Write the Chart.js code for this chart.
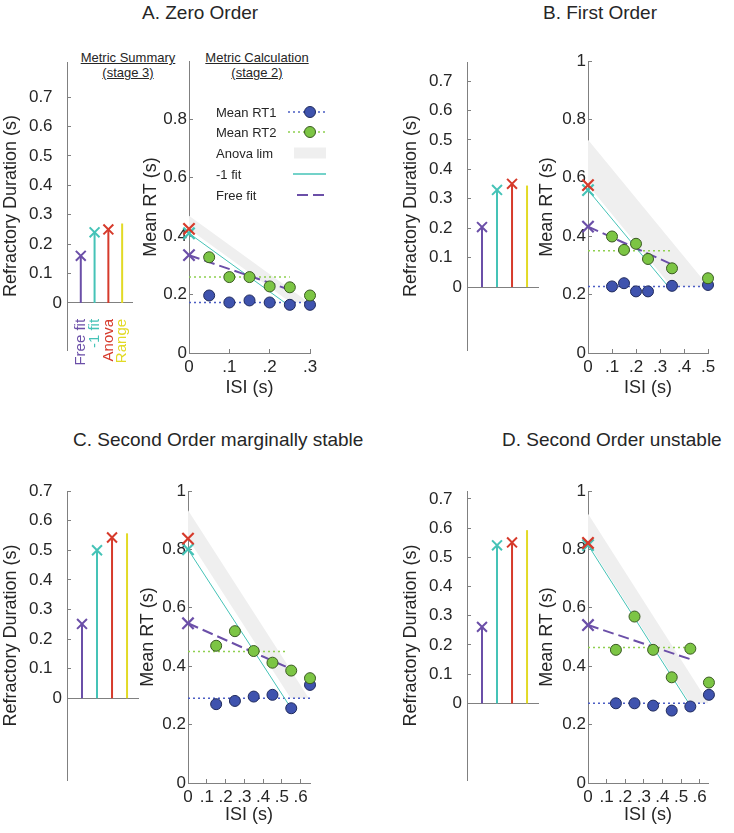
<!DOCTYPE html>
<html lang="en">
<head>
<meta charset="UTF-8">
<title>Refractory duration metrics</title>
<script src="https://cdn.jsdelivr.net/npm/chart.js"></script>
<style>
  body { margin: 0; background: #fff; font-family: "Liberation Sans", Arial, Helvetica, sans-serif; color: #262626; }
  #fig { position: relative; width: 734px; height: 833px; overflow: hidden; }
  canvas { position: absolute; }
  .title { position: absolute; font-size: 19px; line-height: 19px; white-space: nowrap; }
  .sub { position: absolute; font-size: 13px; line-height: 15px; text-align: center; text-decoration: underline; white-space: nowrap; transform: translateX(-50%); }
</style>
</head>
<body>
<div id="fig">
  <div class="title" style="left:142px;top:3px">A. Zero Order</div>
  <div class="title" style="left:543px;top:3px">B. First Order</div>
  <div class="title" style="left:73px;top:430px">C. Second Order marginally stable</div>
  <div class="title" style="left:502px;top:430px">D. Second Order unstable</div>
  <div class="sub" style="left:128px;top:50px">Metric Summary<br>(stage 3)</div>
  <div class="sub" style="left:257px;top:50px">Metric Calculation<br>(stage 2)</div>
</div>

<script>
// ---- shared labels / ticks ----
const summaryLabels = ['Free fit', '-1 fit', 'Anova', 'Range'];
const metricSlots = [1, 2, 3, 4];
const durTicks = [0, 0.1, 0.2, 0.3, 0.4, 0.5, 0.6, 0.7];
const rtTicksA = [0, 0.2, 0.4, 0.6, 0.8];
const rtTicks = [0, 0.2, 0.4, 0.6, 0.8, 1];
const legendLabels = ['Mean RT1', 'Mean RT2', 'Anova lim', '-1 fit', 'Free fit'];

// ---- A. Zero Order ----
const isiA = [0.05, 0.1, 0.15, 0.2, 0.25, 0.3];
const rt1A = [0.197, 0.173, 0.18, 0.173, 0.165, 0.165];
const rt2A = [0.328, 0.26, 0.26, 0.228, 0.225, 0.197];
const meanRt1A = [[0, 0.173], [0.31, 0.173]];
const meanRt2A = [[0, 0.26], [0.25, 0.26]];
const fitMinus1A = [[0, 0.41], [0.245, 0.165]];
const fitFreeA = [[0, 0.335], [0.255, 0.214]];
const anovaTopA = [[0, 0.47], [0.297, 0.173]];
const anovaBottomA = [[0, 0.425], [0.252, 0.173], [0.297, 0.173]];
const interceptsA = [0.335, 0.41, 0.425];   // free fit, -1 fit, anova
const summaryA = [0.16, 0.24, 0.25, 0.27];
const isiTicksA = [0, 0.1, 0.2, 0.3];

// ---- B. First Order ----
const isiB = [0.1, 0.15, 0.2, 0.25, 0.35, 0.5];
const rt1B = [0.228, 0.239, 0.211, 0.211, 0.23, 0.233];
const rt2B = [0.399, 0.353, 0.374, 0.322, 0.29, 0.256];
const meanRt1B = [[0, 0.228], [0.52, 0.228]];
const meanRt2B = [[0, 0.35], [0.35, 0.35]];
const fitMinus1B = [[0, 0.558], [0.348, 0.214]];
const fitFreeB = [[0, 0.433], [0.34, 0.307]];
const anovaTopB = [[0, 0.73], [0.502, 0.228]];
const anovaBottomB = [[0, 0.575], [0.347, 0.228], [0.502, 0.228]];
const interceptsB = [0.433, 0.558, 0.575];
const summaryB = [0.204, 0.33, 0.351, 0.345];
const isiTicksB = [0, 0.1, 0.2, 0.3, 0.4, 0.5];

// ---- C. Second Order marginally stable ----
const isiC = [0.15, 0.25, 0.35, 0.45, 0.55, 0.65];
const rt1C = [0.27, 0.281, 0.296, 0.302, 0.256, 0.336];
const rt2C = [0.47, 0.52, 0.452, 0.412, 0.385, 0.359];
const meanRt1C = [[0, 0.29], [0.65, 0.29]];
const meanRt2C = [[0, 0.45], [0.53, 0.45]];
const fitMinus1C = [[0, 0.8], [0.55, 0.255]];
const fitFreeC = [[0, 0.547], [0.55, 0.39]];
const anovaTopC = [[0, 0.934], [0.644, 0.29]];
const anovaBottomC = [[0, 0.837], [0.547, 0.29], [0.644, 0.29]];
const interceptsC = [0.547, 0.8, 0.837];
const summaryC = [0.251, 0.5, 0.543, 0.557];
const isiTicksC = [0, 0.1, 0.2, 0.3, 0.4, 0.5, 0.6];

// ---- D. Second Order unstable ----
const isiD = [0.15, 0.25, 0.35, 0.45, 0.55, 0.65];
const rt1D = [0.273, 0.273, 0.265, 0.248, 0.262, 0.302];
const rt2D = [0.456, 0.57, 0.456, 0.362, 0.46, 0.344];
const meanRt1D = [[0, 0.273], [0.645, 0.273]];
const meanRt2D = [[0, 0.464], [0.55, 0.464]];
const fitMinus1D = [[0, 0.815], [0.55, 0.265]];
const fitFreeD = [[0, 0.541], [0.55, 0.424]];
const anovaTopD = [[0, 0.922], [0.649, 0.273]];
const anovaBottomD = [[0, 0.822], [0.549, 0.273], [0.649, 0.273]];
const interceptsD = [0.541, 0.815, 0.822];
const summaryD = [0.262, 0.541, 0.551, 0.593];
const isiTicksD = [0, 0.1, 0.2, 0.3, 0.4, 0.5, 0.6];

// ---- colours ----
const C = {
  purple: '#6b4fa8', teal: '#45c3b7', red: '#d63a2b', yellow: '#e2da25',
  blue: '#3f53ae', blueEdge: '#1f2a5c', green: '#7cc544', greenEdge: '#3a5a22',
  blueDot: '#4b5dc4', greenDot: '#8fd050', band: '#efefef',
  axis: '#808080', text: '#262626'
};
const metricColors = [C.purple, C.teal, C.red, C.yellow];
const interceptColors = [C.purple, C.teal, C.red];

Chart.defaults.font.family = '"Liberation Sans", Arial, Helvetica, sans-serif';
Chart.defaults.color = C.text;

const fig = document.getElementById('fig');

function place(g) {
  const cv = document.createElement('canvas');
  cv.width = g.w; cv.height = g.h;
  cv.style.left = g.x + 'px'; cv.style.top = g.y + 'px';
  fig.appendChild(cv);
  return cv;
}

// legend drawn inside panel A's calculation axes
const rtLegend = {
  id: 'rtLegend',
  afterDatasetsDraw(chart, args, opts) {
    const ctx = chart.ctx;
    const ox = opts.ox, oy = opts.oy;
    const rows = [112, 132, 153, 174, 195];
    ctx.save();
    ctx.font = '13px "Liberation Sans", Arial, sans-serif';
    ctx.fillStyle = C.text;
    ctx.textBaseline = 'middle';
    legendLabels.forEach((lab, i) => ctx.fillText(lab, 216 - ox, rows[i] - oy + 1));
    const line = (x1, x2, y, col, w, dash) => {
      ctx.beginPath(); ctx.setLineDash(dash); ctx.strokeStyle = col; ctx.lineWidth = w;
      ctx.moveTo(x1 - ox, y - oy); ctx.lineTo(x2 - ox, y - oy); ctx.stroke(); ctx.setLineDash([]);
    };
    const dot = (x, y, fill, edge) => {
      ctx.beginPath(); ctx.arc(x - ox, y - oy, 5.5, 0, Math.PI * 2);
      ctx.fillStyle = fill; ctx.fill(); ctx.strokeStyle = edge; ctx.lineWidth = 1; ctx.stroke();
    };
    line(288, 325, rows[0], C.blueDot, 1.5, [2, 3]); dot(310, rows[0], C.blue, C.blueEdge);
    line(288, 325, rows[1], C.greenDot, 1.5, [2, 3]); dot(310, rows[1], C.green, C.greenEdge);
    ctx.fillStyle = C.band; ctx.fillRect(294 - ox, rows[2] - 5.5 - oy, 32, 11);
    line(293, 326, rows[3], C.teal, 1.5, []);
    line(297, 326, rows[4], C.purple, 2, [11, 5]);
    ctx.restore();
  }
};

function summaryChart(g, values, range, showLabels) {
  const cv = place(g);
  const datasets = values.map((v, k) => ({
    data: [[metricSlots[k], 0], [metricSlots[k], v]],
    borderColor: metricColors[k],
    borderWidth: 2,
    pointStyle: 'crossRot',
    pointRadius: k === 3 ? [0, 0] : [0, 7],
    pointBorderColor: metricColors[k],
    pointBackgroundColor: metricColors[k],
    pointBorderWidth: 2,
    clip: false
  }));
  new Chart(cv, {
    type: 'line',
    data: { datasets },
    options: {
      responsive: false, animation: false, events: [],
      layout: { padding: { left: 0, top: g.at - g.y, right: g.x + g.w - g.ar, bottom: g.y + g.h - g.ab } },
      plugins: { legend: { display: false }, tooltip: { enabled: false } },
      scales: {
        x: {
          type: 'linear', min: 0, max: 4.73, position: { y: 0 },
          afterBuildTicks: s => { s.ticks = metricSlots.map(v => ({ value: v })); },
          grid: { display: false },
          border: { color: C.axis, width: 1 },
          ticks: {
            display: showLabels, minRotation: 90, maxRotation: 90, autoSkip: false, padding: 8,
            font: { size: 15 }, color: c => metricColors[c.index],
            callback: (v, i) => summaryLabels[i]
          }
        },
        y: {
          type: 'linear', min: range[0], max: range[1],
          afterBuildTicks: s => { s.ticks = durTicks.map(v => ({ value: v })); },
          afterFit: s => { s.width = g.al - g.x; },
          grid: { drawOnChartArea: false, tickLength: -4, color: C.axis },
          border: { color: C.axis, width: 1 },
          ticks: { padding: 9, font: { size: 17 }, color: C.text,
                   callback: v => v === 0 ? '0' : v.toFixed(1) + '  ' },
          title: { display: true, text: 'Refractory Duration (s)', font: { size: 18 }, color: C.text, padding: 0 }
        }
      }
    }
  });
}

function rtChart(g, d, withLegend) {
  const cv = place(g);
  const pts = (xs, ys) => xs.map((x, i) => [x, ys[i]]);
  const clear = 'rgba(0,0,0,0)';
  const datasets = [
    { data: d.anovaTop, fill: '+1', backgroundColor: C.band, borderColor: clear, borderWidth: 0, pointRadius: 0, order: 10 },
    { data: d.anovaBottom, fill: false, borderColor: clear, borderWidth: 0, pointRadius: 0, order: 10 },
    { data: d.meanRt1, borderColor: C.blueDot, borderWidth: 1.5, borderDash: [2, 3], pointRadius: 0, clip: false, order: 7 },
    { data: d.meanRt2, borderColor: C.greenDot, borderWidth: 1.5, borderDash: [2, 3], pointRadius: 0, clip: false, order: 7 },
    { data: d.fitMinus1, borderColor: C.teal, borderWidth: 1, pointRadius: 0, clip: false, order: 6 },
    { data: d.fitFree, borderColor: C.purple, borderWidth: 2, borderDash: [11, 5], pointRadius: 0, clip: false, order: 5 },
    { data: pts(d.isi, d.rt1), showLine: false, pointRadius: 5.5, pointBackgroundColor: C.blue,
      pointBorderColor: C.blueEdge, pointBorderWidth: 1, clip: false, order: 4 },
    { data: pts(d.isi, d.rt2), showLine: false, pointRadius: 5.5, pointBackgroundColor: C.green,
      pointBorderColor: C.greenEdge, pointBorderWidth: 1, clip: false, order: 3 }
  ];
  d.intercepts.forEach((v, k) => datasets.push({
    data: [[0, v]], showLine: false, pointStyle: 'crossRot', pointRadius: 8, pointBorderWidth: 2.2,
    pointBorderColor: interceptColors[k], pointBackgroundColor: interceptColors[k], clip: false, order: 2 - k
  }));
  new Chart(cv, {
    type: 'line',
    data: { datasets },
    plugins: withLegend ? [rtLegend] : [],
    options: {
      responsive: false, animation: false, events: [],
      layout: { padding: { left: 0, top: g.at - g.y, right: g.x + g.w - g.ar, bottom: 0 } },
      plugins: { legend: { display: false }, tooltip: { enabled: false }, rtLegend: { ox: g.x, oy: g.y } },
      scales: {
        x: {
          type: 'linear', min: 0, max: d.isiMax,
          afterBuildTicks: s => { s.ticks = d.isiTicks.map(v => ({ value: v })); },
          afterFit: s => { s.height = g.y + g.h - g.ab; },
          grid: { drawOnChartArea: false, tickLength: -4, color: C.axis },
          border: { color: C.axis, width: 1 },
          ticks: { autoSkip: false, maxRotation: 0, padding: 8, font: { size: 17 }, color: C.text,
                   callback: v => v === 0 ? '0' : '.' + Math.round(v * 10) },
          title: { display: true, text: 'ISI (s)', font: { size: 18 }, color: C.text, padding: 0 }
        },
        y: {
          type: 'linear', min: 0, max: 1,
          afterBuildTicks: s => { s.ticks = d.rtTicks.map(v => ({ value: v })); },
          afterFit: s => { s.width = g.al - g.x; },
          grid: { drawOnChartArea: false, tickLength: -4, color: C.axis },
          border: { color: C.axis, width: 1 },
          ticks: { padding: 6, font: { size: 17 }, color: C.text,
                   callback: v => (v === 0 || v === 1) ? String(v) : v.toFixed(1) },
          title: { display: true, text: 'Mean RT (s)', font: { size: 18 }, color: C.text, padding: 0 }
        }
      }
    }
  });
}

// canvas boxes (x, y, w, h) and plot areas (al, at, ar, ab) in page pixels
summaryChart({ x: 0, y: 40, w: 150, h: 360, al: 67, at: 62, ar: 138, ab: 350 }, summaryA, [-0.16, 0.819], true);
summaryChart({ x: 400, y: 40, w: 150, h: 360, al: 467, at: 62, ar: 538, ab: 350 }, summaryB, [-0.214, 0.765], false);
summaryChart({ x: 0, y: 470, w: 150, h: 345, al: 67, at: 491, ar: 138, ab: 780 }, summaryC, [-0.276, 0.7], false);
summaryChart({ x: 400, y: 470, w: 150, h: 345, al: 467, at: 491, ar: 538, ab: 780 }, summaryD, [-0.262, 0.727], false);

rtChart({ x: 140, y: 40, w: 190, h: 359, al: 189, at: 61, ar: 310, ab: 353 },
  { isi: isiA, rt1: rt1A, rt2: rt2A, meanRt1: meanRt1A, meanRt2: meanRt2A, fitMinus1: fitMinus1A, fitFree: fitFreeA,
    anovaTop: anovaTopA, anovaBottom: anovaBottomA, intercepts: interceptsA, isiMax: 0.3, isiTicks: isiTicksA, rtTicks: rtTicksA }, true);
rtChart({ x: 536, y: 40, w: 194, h: 359, al: 588, at: 61, ar: 708, ab: 353 },
  { isi: isiB, rt1: rt1B, rt2: rt2B, meanRt1: meanRt1B, meanRt2: meanRt2B, fitMinus1: fitMinus1B, fitFree: fitFreeB,
    anovaTop: anovaTopB, anovaBottom: anovaBottomB, intercepts: interceptsB, isiMax: 0.5, isiTicks: isiTicksB, rtTicks: rtTicks }, false);
rtChart({ x: 137, y: 470, w: 193, h: 356, al: 188, at: 491, ar: 310, ab: 783 },
  { isi: isiC, rt1: rt1C, rt2: rt2C, meanRt1: meanRt1C, meanRt2: meanRt2C, fitMinus1: fitMinus1C, fitFree: fitFreeC,
    anovaTop: anovaTopC, anovaBottom: anovaBottomC, intercepts: interceptsC, isiMax: 0.65, isiTicks: isiTicksC, rtTicks: rtTicks }, false);
rtChart({ x: 536, y: 470, w: 194, h: 356, al: 588, at: 491, ar: 708, ab: 783 },
  { isi: isiD, rt1: rt1D, rt2: rt2D, meanRt1: meanRt1D, meanRt2: meanRt2D, fitMinus1: fitMinus1D, fitFree: fitFreeD,
    anovaTop: anovaTopD, anovaBottom: anovaBottomD, intercepts: interceptsD, isiMax: 0.645, isiTicks: isiTicksD, rtTicks: rtTicks }, false);
</script>
</body>
</html>
